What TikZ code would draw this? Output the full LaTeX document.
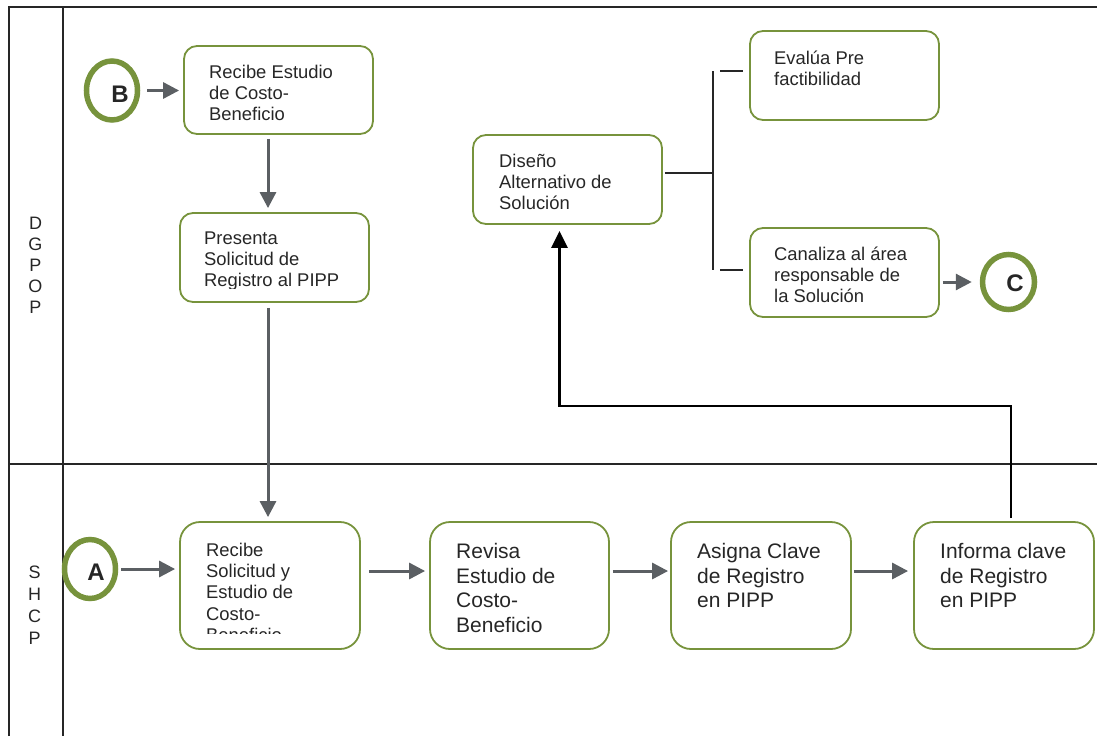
\documentclass[tikz,border=0pt]{standalone}
\usepackage{fontspec}
\setmainfont{Liberation Sans}
\usetikzlibrary{arrows.meta,shapes.geometric,calc}
\definecolor{grn}{HTML}{77933C}
\definecolor{arrg}{HTML}{5B5F63}
\definecolor{txt}{HTML}{262626}
\definecolor{frm}{HTML}{262626}
\begin{document}
\begin{tikzpicture}[x=1pt,y=-1pt,
  frame/.style={draw=frm,line width=2pt},
  box/.style={draw=grn,line width=1.8pt,rounded corners=13pt,inner sep=0pt,minimum width=189pt,minimum height=88pt},
  bigbox/.style={draw=grn,line width=1.8pt,rounded corners=20pt,inner sep=0pt,minimum width=180pt,minimum height=127pt},
  circ/.style={ellipse,draw=grn,line width=5.5pt,inner sep=0pt,minimum width=51pt,minimum height=59pt},
  cl/.style={font=\bfseries\fontsize{24}{24}\selectfont,text=txt,inner sep=0pt},
  txts/.style={font=\fontsize{18.4}{21.2}\selectfont,text=txt,align=left,inner sep=0pt,anchor=north west},
  txtb/.style={font=\fontsize{21}{24.6}\selectfont,text=txt,align=left,inner sep=0pt,anchor=north west},
  lane/.style={font=\fontsize{18}{21}\selectfont,text=txt,align=center,inner sep=0pt,anchor=north},
  arr/.style={draw=arrg,line width=3pt,-{Triangle[length=16pt,width=16pt]}},
  blk/.style={draw=black,line width=2.6pt,-{Triangle[length=17pt,width=16pt]}},
  brk/.style={draw=frm,line width=2pt}]
\useasboundingbox (0,0) rectangle (1097,736);
% lanes
\draw[frame] (9,736) -- (9,7) -- (1097,7);
\draw[frame] (63,7) -- (63,736);
\draw[frame] (9,464) -- (1097,464);
\node[lane] (l1) at (35.5,217) {D\\G\\P\\O\\P};
\node[lane,font=\fontsize{18}{22}\selectfont] (l2) at (34.6,566) {S\\H\\C\\P};
% boxes
\node[box] (b1) at (278.5,90) {};
\node[box,minimum height=89pt] (b2) at (274.5,257.5) {};
\node[box,minimum height=89pt] (b3) at (567.5,179.5) {};
\node[box,minimum height=89pt] (b4) at (844.5,75.5) {};
\node[box,minimum height=89pt] (b5) at (844.5,272.5) {};
\node[bigbox] (b6) at (270,585.5) {};
\node[bigbox,minimum width=179pt] (b7) at (519.5,585.5) {};
\node[bigbox] (b8) at (761,585.5) {};
\node[bigbox] (b9) at (1004,585.5) {};
% texts
\node[txts] (t1) at (209,65) {Recibe Estudio\\de Costo-\\Beneficio};
\begin{scope}
\clip (180,212) rectangle (369,288);
\node[txts] (t2) at (204,231.5) {Presenta\\Solicitud de\\Registro al PIPP};
\end{scope}
\node[txts] (t3) at (499,154) {Diseño\\Alternativo de\\Solución};
\node[txts] (t4) at (774,50.5) {Evalúa Pre\\factibilidad};
\node[txts] (t5) at (774,246.7) {Canaliza al área\\responsable de\\la Solución};
\begin{scope}
\clip (180,522) rectangle (360,633);
\node[txts] (t6) at (206,543) {Recibe\\Solicitud y\\Estudio de\\Costo-\\Beneficio};
\end{scope}
\node[txtb] (t7) at (456,543) {Revisa\\Estudio de\\Costo-\\Beneficio};
\node[txtb] (t8) at (697,543) {Asigna Clave\\de Registro\\en PIPP};
\node[txtb] (t9) at (940,543) {Informa clave\\de Registro\\en PIPP};
% connector circles
\node[circ] (B) at (112,90.5) {};
\node[cl] (Bt) at (120,94.5) {B};
\node[circ] (A) at (90,569) {};
\node[cl] (At) at (96,572) {A};
\node[circ,minimum width=52pt,minimum height=55pt] (C) at (1008.5,282) {};
\node[cl] (Ct) at (1015,283) {C};
% arrows
\draw[arr,shorten <=7pt,shorten >=4pt] (B.east) -- (B.east -| b1.west);
\draw[arr] ([xshift=-10.5pt,yshift=-4pt]b1.south) -- ([xshift=-6.5pt,yshift=4pt]b2.north);
\draw[arr] ([xshift=-6.5pt,yshift=-5pt]b2.south) -- ([xshift=-2pt,yshift=4pt]b6.north);
\draw[arr,shorten <=3pt,shorten >=4pt] (A.east) -- (A.east -| b6.west);
\draw[arr,shorten <=8pt,shorten >=4pt] ([yshift=14.5pt]b6.east) -- ([yshift=14.5pt]b7.west);
\draw[arr,shorten <=3pt,shorten >=2pt] ([yshift=14.5pt]b7.east) -- ([yshift=14.5pt]b8.west);
\draw[arr,shorten <=2pt,shorten >=5pt] ([yshift=14.5pt]b8.east) -- ([yshift=14.5pt]b9.west);
\draw[arr,shorten <=3pt,shorten >=8pt] (b5.east |- C.west) -- (C.west);
% return connector
\coordinate (j) at (559.5,406);
\draw[blk] ([xshift=7pt,yshift=3pt]b9.north) |- (j) -- ([xshift=-8pt,yshift=-6pt]b3.south);
% bracket
\coordinate (bm) at (713,173);
\coordinate (bt) at (713,71);
\coordinate (bb) at (713,270);
\draw[brk] ([xshift=2pt,yshift=6.5pt]b3.east) -- (bm);
\draw[brk] (bt) -- (bb);
\draw[brk] ($(bt)+(7,0)$) -- ([xshift=-6pt,yshift=4.5pt]b4.west);
\draw[brk] ($(bb)+(7,0)$) -- ([xshift=-6pt,yshift=2.5pt]b5.west);
\end{tikzpicture}
\end{document}
